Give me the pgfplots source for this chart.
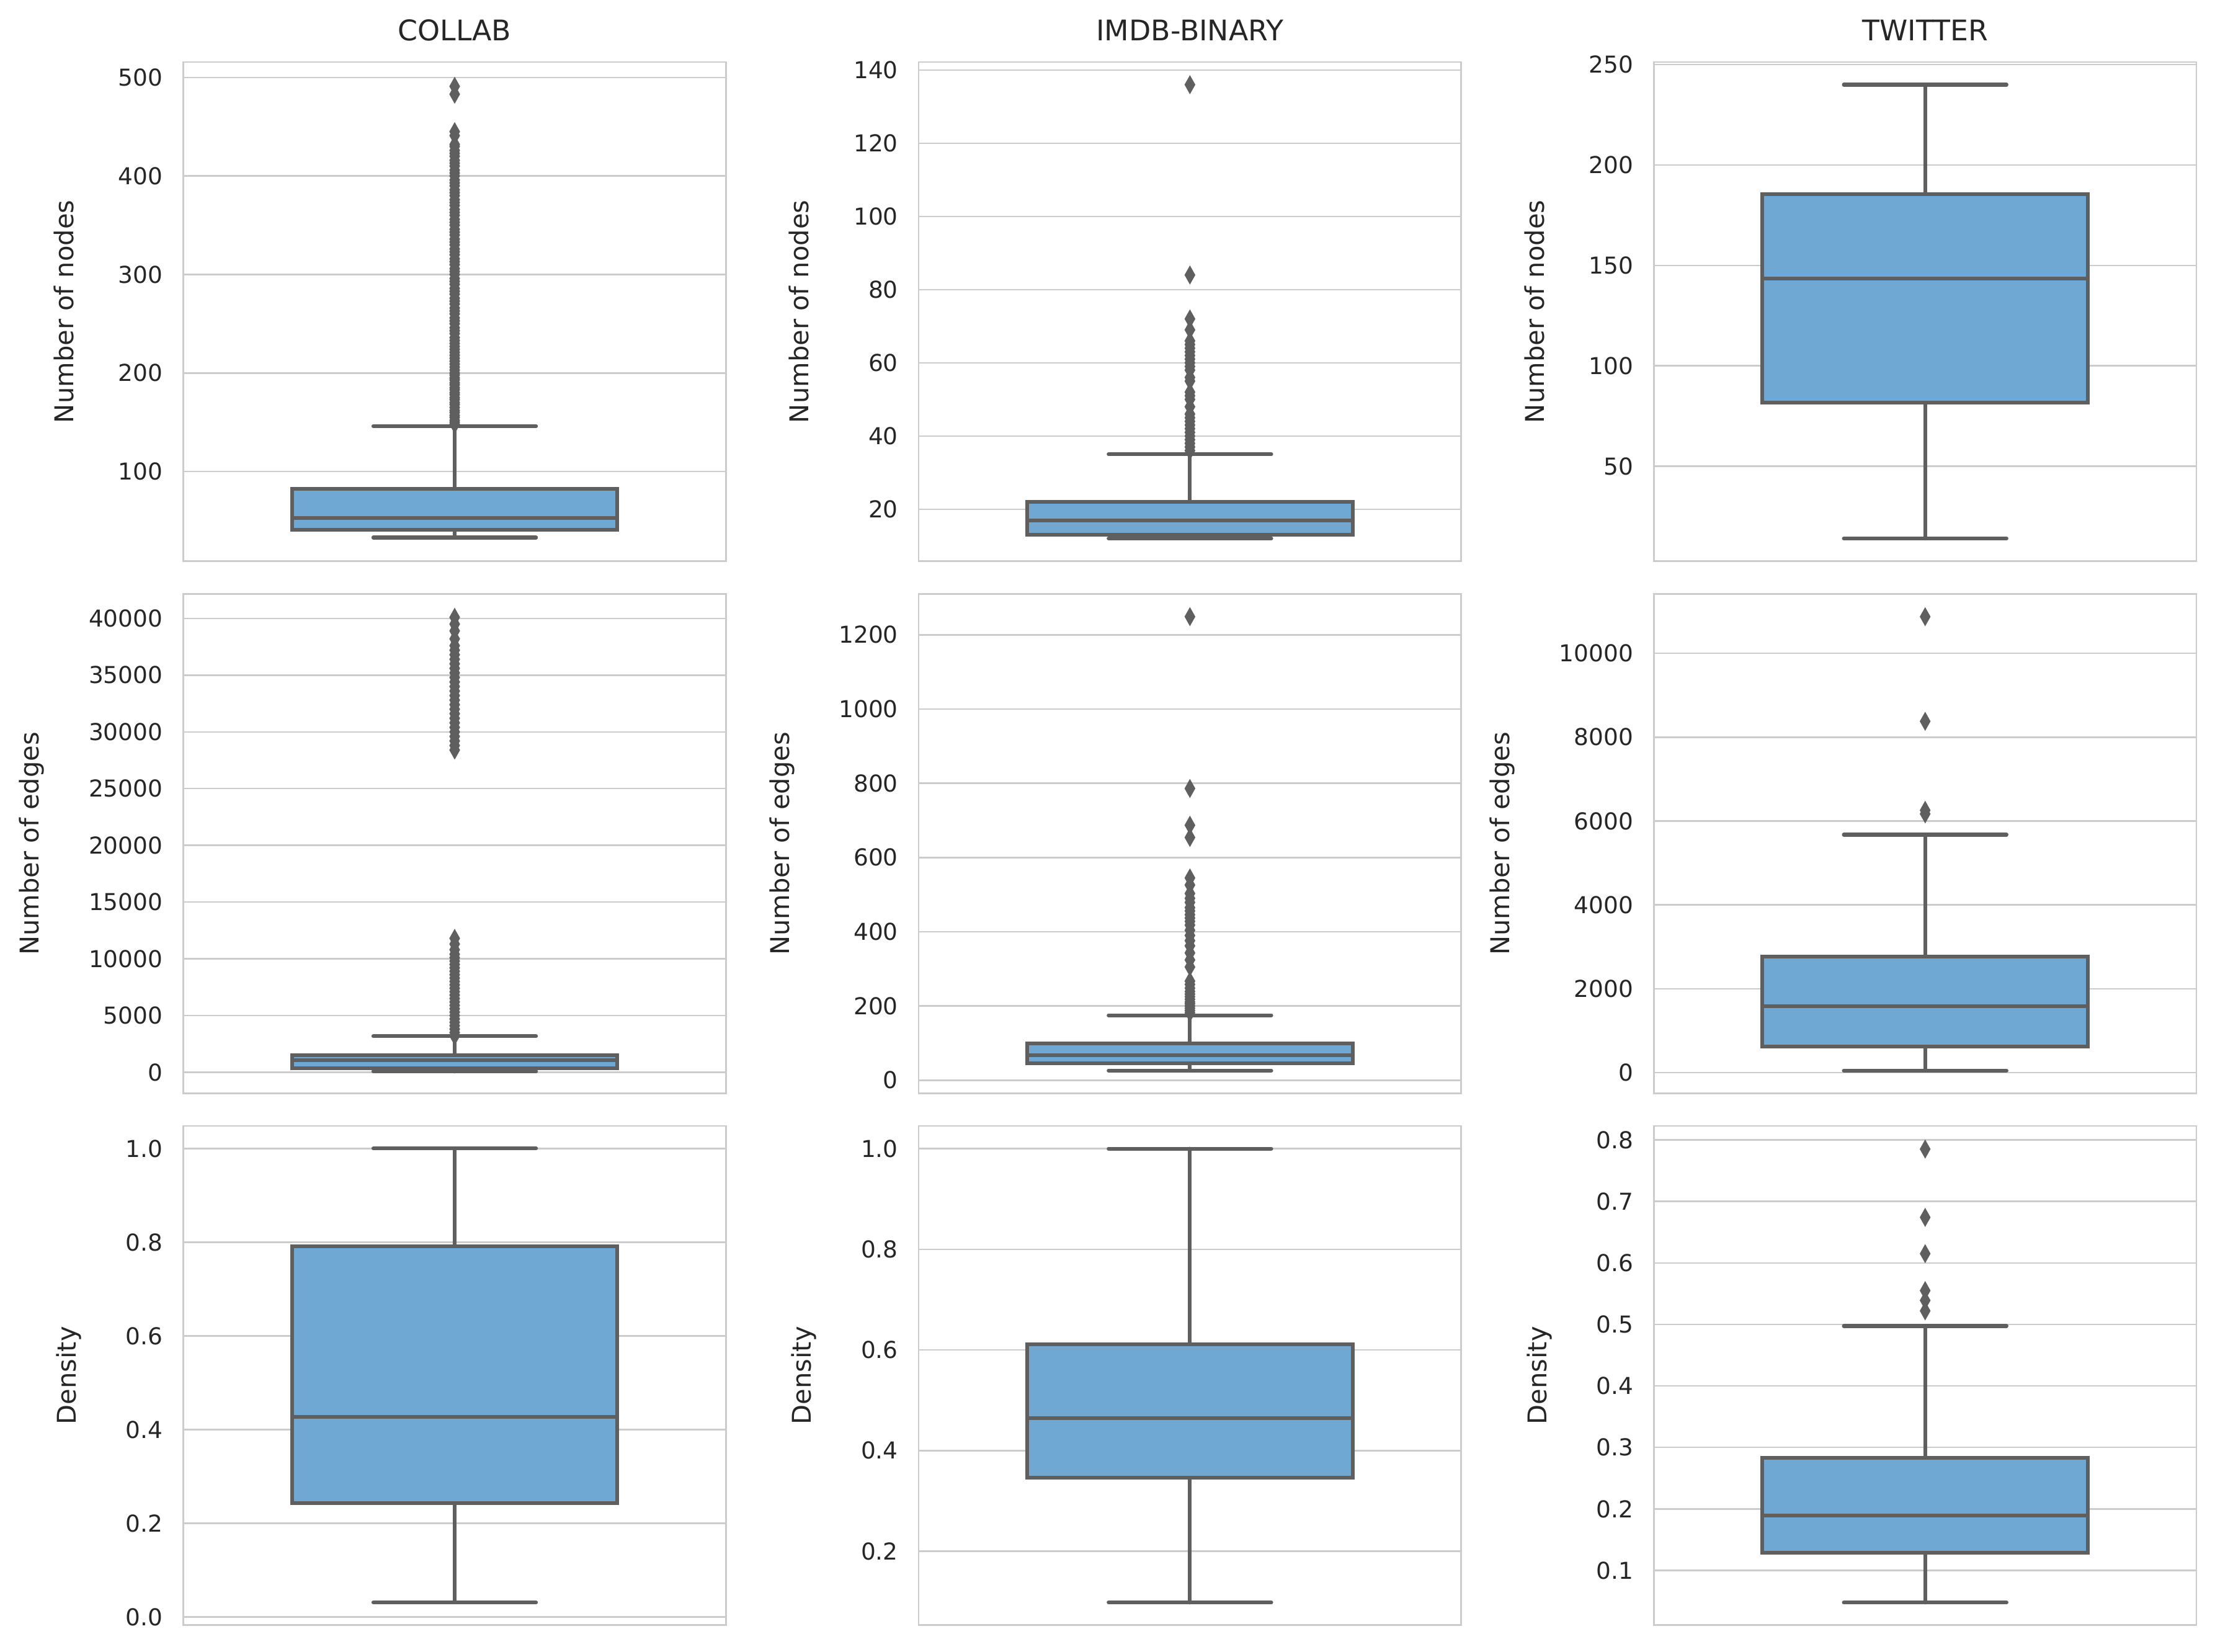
\documentclass[border=0pt]{standalone}
\usepackage{fontspec}
\setmainfont{DejaVu Sans}
\usepackage{pgfplots}
\pgfplotsset{compat=1.18}
\usepgfplotslibrary{groupplots,statistics}

\definecolor{boxblue}{HTML}{6FA8D2}
\definecolor{linegray}{HTML}{5F5F5F}
\definecolor{gridgray}{HTML}{CCCCCC}
\definecolor{textgray}{HTML}{262626}

\pgfplotsset{
  bp/.style={
    draw=linegray, line width=1.45pt, solid,
    mark=diamond*, mark size=3.4pt,
    mark options={fill=linegray, draw=linegray, line width=0.3pt, xscale=0.75},
    boxplot/every box/.style={draw=linegray, fill=boxblue, line join=miter},
    boxplot/every whisker/.style={line cap=round},
  },
  dens/.style={yticklabel style={/pgf/number format/fixed zerofill, /pgf/number format/precision=1}},
}

\begin{document}
\begin{tikzpicture}
\begin{groupplot}[
  group style={group size=3 by 3, horizontal sep=74.6pt, vertical sep=12.7pt},
  scale only axis, width=210pt, height=193.2pt,
  xmin=-0.5, xmax=0.5, xtick=\empty,
  axis line style={gridgray, line width=0.65pt},
  ymajorgrids, grid style={gridgray, line width=0.6pt},
  major tick length=0pt,
  /pgf/number format/assume math mode=true,
  scaled y ticks=false,
  yticklabel style={font=\fontsize{9}{11}\selectfont, text=textgray, inner sep=0pt,
    /pgf/number format/fixed, /pgf/number format/1000 sep={}},
  yticklabel shift=7.8pt,
  ylabel style={font=\fontsize{10}{12}\selectfont, text=textgray,
    at={(ticklabel cs:0.5,17pt)}, anchor=south, inner sep=0pt},
  title style={font=\fontsize{11}{13}\selectfont, text=textgray, inner sep=0pt, yshift=2pt},
  boxplot/draw direction=y,
  boxplot/draw position=0,
  boxplot/box extend=0.6,
  boxplot/whisker extend=0.3,
]

% ---- row 1: number of nodes
\nextgroupplot[title=COLLAB, ylabel=Number of nodes, ymin=9, ymax=515.7, ytick={100,200,300,400,500}]
\addplot[bp, boxplot prepared={lower whisker=33, lower quartile=41, median=53, upper quartile=82.5, upper whisker=146}]
  coordinates {(0,148) (0,150) (0,152) (0,155) (0,157) (0,160) (0,162) (0,165) (0,168) (0,170)
  (0,173) (0,175) (0,178) (0,180) (0,183) (0,185) (0,188) (0,190) (0,193) (0,195) (0,198) (0,200)
  (0,203) (0,206) (0,209) (0,212) (0,215) (0,218) (0,221) (0,224) (0,227) (0,230) (0,233) (0,236)
  (0,240) (0,243) (0,246) (0,250) (0,253) (0,256) (0,260) (0,263) (0,266) (0,270) (0,273) (0,276)
  (0,280) (0,283) (0,286) (0,290) (0,293) (0,296) (0,300) (0,303) (0,306) (0,310) (0,313) (0,316)
  (0,320) (0,323) (0,326) (0,330) (0,333) (0,336) (0,340) (0,343) (0,346) (0,350) (0,353) (0,356)
  (0,360) (0,363) (0,366) (0,370) (0,373) (0,376) (0,380) (0,383) (0,386) (0,390) (0,393) (0,396)
  (0,400) (0,403) (0,406) (0,410) (0,413) (0,416) (0,420) (0,423) (0,426) (0,430) (0,432)
  (0,441) (0,445) (0,483) (0,491)};

\nextgroupplot[title=IMDB-BINARY, ylabel=Number of nodes, ymin=5.8, ymax=142.2, ytick={20,40,60,80,100,120,140}]
\addplot[bp, boxplot prepared={lower whisker=12, lower quartile=13, median=17, upper quartile=22, upper whisker=35}]
  coordinates {(0,36) (0,37) (0,38) (0,39) (0,40) (0,41) (0,42) (0,43) (0,44) (0,45) (0,46) (0,48)
  (0,50) (0,51) (0,52) (0,55) (0,56) (0,58) (0,59) (0,60) (0,61) (0,62) (0,63) (0,64) (0,65) (0,66)
  (0,69) (0,72) (0,84) (0,136)};

\nextgroupplot[title=TWITTER, ylabel=Number of nodes, ymin=2.7, ymax=251.3, ytick={50,100,150,200,250}]
\addplot[bp, boxplot prepared={lower whisker=14, lower quartile=81.8, median=143.5, upper quartile=185.5, upper whisker=240}]
  coordinates {};

% ---- row 2: number of edges
\nextgroupplot[ylabel=Number of edges, ymin=-1846, ymax=42154, ytick={0,5000,10000,15000,20000,25000,30000,35000,40000}]
\addplot[bp, boxplot prepared={lower whisker=60, lower quartile=370, median=1080, upper quartile=1480, upper whisker=3170}]
  coordinates {(0,3200) (0,3500) (0,3800) (0,4100) (0,4400) (0,4700) (0,5000) (0,5300) (0,5600)
  (0,5900) (0,6200) (0,6500) (0,6800) (0,7100) (0,7400) (0,7700) (0,8000) (0,8300) (0,8600)
  (0,8900) (0,9200) (0,9500) (0,9800) (0,10100) (0,10400) (0,10800) (0,11300) (0,11800)
  (0,28400) (0,28800) (0,29200) (0,29600) (0,30000) (0,30400) (0,30800) (0,31200) (0,31600)
  (0,32000) (0,32400) (0,32800) (0,33200) (0,33600) (0,34000) (0,34400) (0,34800) (0,35200)
  (0,35600) (0,36000) (0,36400) (0,36800) (0,37200) (0,37600) (0,38200) (0,38900) (0,39500) (0,40100)};

\nextgroupplot[ylabel=Number of edges, ymin=-35, ymax=1310, ytick={0,200,400,600,800,1000,1200}]
\addplot[bp, boxplot prepared={lower whisker=26, lower quartile=46, median=67, upper quartile=99, upper whisker=175}]
  coordinates {(0,182) (0,188) (0,194) (0,200) (0,206) (0,211) (0,218) (0,225) (0,232) (0,239)
  (0,248) (0,258) (0,267) (0,305) (0,324) (0,343) (0,362) (0,376) (0,390) (0,404) (0,418) (0,428)
  (0,437) (0,446) (0,456) (0,465) (0,479) (0,490) (0,503) (0,526) (0,545) (0,654) (0,687) (0,786) (0,1249)};

\nextgroupplot[ylabel=Number of edges, ymin=-491, ymax=11414, ytick={0,2000,4000,6000,8000,10000}]
\addplot[bp, boxplot prepared={lower whisker=50, lower quartile=616, median=1581, upper quartile=2762, upper whisker=5674}]
  coordinates {(0,6170) (0,6256) (0,8378) (0,10873)};

% ---- row 3: density
\nextgroupplot[dens, ylabel=Density, ymin=-0.0175, ymax=1.048, ytick={0,0.2,0.4,0.6,0.8,1}]
\addplot[bp, boxplot prepared={lower whisker=0.031, lower quartile=0.2435, median=0.4266, upper quartile=0.791, upper whisker=1.0}]
  coordinates {};

\nextgroupplot[dens, ylabel=Density, ymin=0.053, ymax=1.045, ytick={0.2,0.4,0.6,0.8,1}]
\addplot[bp, boxplot prepared={lower whisker=0.098, lower quartile=0.346, median=0.465, upper quartile=0.611, upper whisker=1.0}]
  coordinates {};

\nextgroupplot[dens, ylabel=Density, ymin=0.011, ymax=0.8225, ytick={0.1,0.2,0.3,0.4,0.5,0.6,0.7,0.8}]
\addplot[bp, boxplot prepared={lower whisker=0.0478, lower quartile=0.129, median=0.1897, upper quartile=0.2834, upper whisker=0.4974}]
  coordinates {(0,0.522) (0,0.539) (0,0.555) (0,0.615) (0,0.674) (0,0.785)};
\end{groupplot}
\path ([xshift=-71pt,yshift=24pt]group c1r1.north west) rectangle ([xshift=7.2pt,yshift=-10.3pt]group c3r3.south east);
\end{tikzpicture}
\end{document}
